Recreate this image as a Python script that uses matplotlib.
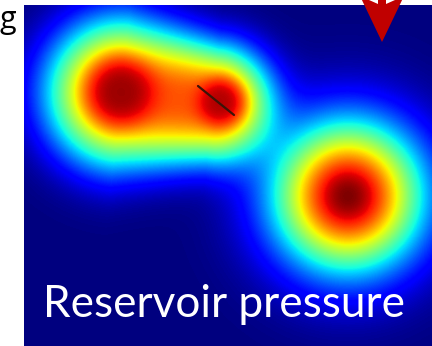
import numpy as np
import matplotlib
matplotlib.use("Agg")
import matplotlib.pyplot as plt
from matplotlib.patches import Polygon

W, H = 432, 346

# panel placement (pixels)
panel_left, panel_top = 24, 5

# pressure plumes: start/end of each plume axis, spread at each end,
# strength and sharpness of the fall-off
plume_x0 = [121, 121, 221, 348]
plume_y0 = [93, 92, 102, 196]
plume_x1 = [213, 121, 221, 348]
plume_y1 = [103, 92, 102, 196]
plume_s0 = [75, 34, 24, 73]
plume_s1 = [59, 34, 24, 73]
plume_amp = [0.82, 0.85, 0.75, 1.0]
plume_pow = [2.6, 3, 3, 2]

# fault line and injection arrow
fault_x = [198, 234]
fault_y = [86, 115]
arrow_x = [378, 378, 360, 382, 404, 386, 386]
arrow_y = [-20, 4, -4, 42, -4, 4, -20]

fig = plt.figure(figsize=(W / 100, H / 100), dpi=100)
ax = fig.add_axes([0, 0, 1, 1])

xx, yy = np.meshgrid(np.arange(panel_left, W) + 0.5, np.arange(panel_top, H) + 0.5)
field = np.zeros_like(xx)
for x0, y0, x1, y1, s0, s1, a, p in zip(plume_x0, plume_y0, plume_x1, plume_y1,
                                         plume_s0, plume_s1, plume_amp, plume_pow):
    dx, dy = x1 - x0, y1 - y0
    L2 = dx * dx + dy * dy
    if L2 > 0:
        t = np.clip(((xx - x0) * dx + (yy - y0) * dy) / L2, 0, 1)
    else:
        t = np.zeros_like(xx)
    d = np.hypot(xx - x0 - t * dx, yy - y0 - t * dy)
    s = s0 + (s1 - s0) * t
    g = a * np.exp(-(d / s) ** p)
    field = 1 - (1 - field) * (1 - g)

ax.imshow(field, cmap="jet", vmin=0, vmax=1, extent=[panel_left, W, H, panel_top],
          interpolation="bilinear", aspect="auto")
ax.set_xlim(0, W)
ax.set_ylim(H, 0)
ax.axis("off")

ax.plot(fault_x, fault_y, color="#3a1408", lw=1.6, solid_capstyle="round")
ax.add_patch(Polygon(list(zip(arrow_x, arrow_y)), closed=True, color="#C00000", lw=0))

# label, fitted to the width seen in the reference
txt = ax.text(43, 317, "Reservoir pressure", color="white", fontsize=30,
              family="Lato", ha="left", va="baseline")
fig.canvas.draw()
bb = txt.get_window_extent()
txt.set_fontsize(30 * 361 / bb.width)

ax.text(0, 28, "g", color="black", fontsize=22, family="Open Sans",
        ha="left", va="baseline")

fig.savefig("out.png", dpi=100)
